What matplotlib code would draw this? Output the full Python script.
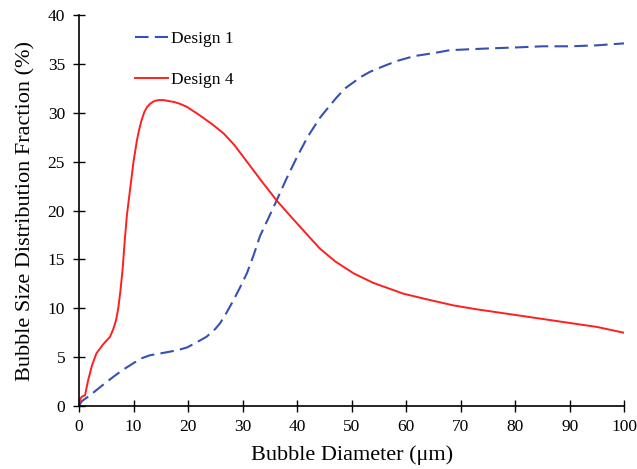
import matplotlib
matplotlib.use("Agg")
import matplotlib.pyplot as plt

# Design 1 (blue dashed)
d1_x = [0, 0.5, 1.0, 2.0, 4.0, 6.3, 8.0, 10.0, 11.5, 13.0, 15.0, 17.9, 19.8, 21.5, 23.4, 25.0, 25.9,
        27.0, 28.3, 29.5, 30.8, 32.0, 33.2, 34.8, 36.3, 38.0, 40.0, 42.0, 44.2, 45.8, 47.3, 48.8,
        50.3, 51.8, 53.4, 56.0, 58.3, 61.5, 65.0, 68.0, 71.7, 76.0, 80.9, 85.0, 90.1, 95.0, 100.0]
d1_y = [0, 0.5, 0.7, 1.1, 2.0, 3.0, 3.7, 4.4, 4.9, 5.2, 5.4, 5.7, 6.0, 6.5, 7.1, 7.9, 8.5,
        9.5, 10.8, 12.1, 13.6, 15.4, 17.4, 19.3, 21.1, 23.2, 25.5, 27.6, 29.5, 30.6, 31.6, 32.5,
        33.1, 33.7, 34.2, 34.8, 35.3, 35.8, 36.1, 36.4, 36.5, 36.6, 36.7, 36.8, 36.8, 36.9, 37.1]

# Design 4 (red solid)
d4_x = [0, 0.3, 0.6, 1.1, 1.7, 2.4, 3.2, 4.4, 5.7, 6.3, 6.8, 7.2, 7.6, 8.0, 8.4, 8.8, 9.4, 10.0,
        10.6, 11.0, 11.5, 12.0, 12.5, 13.1, 13.8, 14.6, 15.5, 16.5, 17.5, 18.6, 19.8, 22.0, 24.5,
        26.5, 28.5, 30.8, 33.5, 36.3, 39.0, 42.4, 44.2, 47.0, 50.3, 54.0, 59.5, 64.0, 68.7, 73.0,
        77.9, 84.0, 90.1, 95.0, 100.0]
d4_y = [0.3, 0.8, 1.0, 1.1, 2.7, 4.2, 5.4, 6.3, 7.1, 7.9, 8.8, 10.0, 11.8, 14.0, 17.0, 19.6, 22.3, 25.0,
        27.1, 28.2, 29.3, 30.1, 30.6, 30.95, 31.2, 31.3, 31.3, 31.2, 31.1, 30.9, 30.6, 29.8, 28.8,
        27.9, 26.7, 25.0, 23.0, 21.0, 19.3, 17.2, 16.1, 14.8, 13.6, 12.6, 11.5, 10.9, 10.3, 9.9,
        9.5, 9.0, 8.5, 8.1, 7.5]

x_ticks = list(range(0, 101, 10))
y_ticks = list(range(0, 41, 5))

plt.rcParams['font.family'] = ['Liberation Serif', 'DejaVu Serif']

fig = plt.figure(figsize=(6.37, 4.69), dpi=100)
ax = fig.add_axes([0.124, 0.134, 0.856, 0.834])

ax.plot(d1_x, d1_y, color='#3552b0', lw=1.5, dashes=(6.5, 3), label='Design 1')
ax.plot(d4_x, d4_y, color='#ff1f1f', lw=1.4, label='Design 4')

ax.set_xlim(0, 100)
ax.set_ylim(0, 40)
ax.set_xticks(x_ticks)
ax.set_yticks(y_ticks)
ax.tick_params(direction='inout', length=8, width=1, labelsize=12.5)
ax.tick_params(axis='x', pad=5)
ax.tick_params(axis='y', pad=6)
for s in ['top', 'right']:
    ax.spines[s].set_visible(False)
for s in ['left', 'bottom']:
    ax.spines[s].set_linewidth(1.2)

ax.set_xlabel('Bubble Diameter (μm)', fontsize=16, labelpad=8)
ax.set_ylabel('Bubble Size Distribution Fraction (%)', fontsize=16, labelpad=9)

ax.legend(loc='upper left', bbox_to_anchor=(0.074, 1.0), frameon=False, fontsize=12.5,
          handlelength=1.92, handletextpad=0.15, labelspacing=1.45)

fig.savefig('out.png', dpi=100)
